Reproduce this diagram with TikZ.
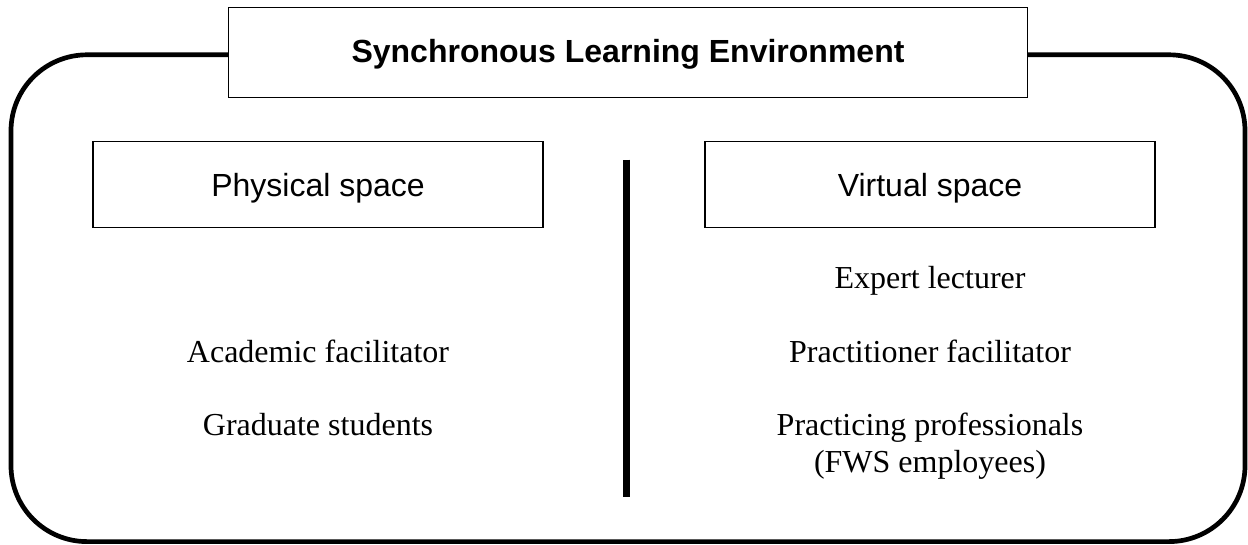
\documentclass[tikz,border=0pt]{standalone}
\usepackage{fontspec}
\setmainfont{Liberation Serif}
\setsansfont{Liberation Sans}
\begin{document}
\begin{tikzpicture}[x=1pt,y=-1pt,
  frame/.style={line width=4.7pt},
  spacebox/.style={draw, line width=1.2pt, minimum width=450pt, minimum height=85.6pt, inner sep=0pt,
    font=\sffamily\fontsize{32}{38}\selectfont, text height=23pt, text depth=0pt},
  titlebox/.style={draw, line width=1.2pt, minimum width=798.6pt, minimum height=90pt, inner sep=0pt,
    font=\sffamily\bfseries\fontsize{32}{38}\selectfont, text height=23pt, text depth=3.6pt},
  role/.style={font=\fontsize{32}{37}\selectfont, anchor=base, inner sep=0pt, align=center},
  divider/.style={line width=7.5pt}]
\useasboundingbox (0,0) rectangle (1248,544);
% frame
\coordinate (fl) at (228.7,54.8);
\coordinate (fr) at (1027.3,54.8);
\draw[frame, rounded corners=76pt] (fl) -- (11,54.8) -- (11,541.6) -- (1245,541.6) -- (1245,54.8) -- (fr);
% title
\node[titlebox, fill=white] (title) at (628,52.3) {Synchronous Learning Environment};
% space boxes
\node[spacebox] (phys) at (318,184.5) {Physical space};
\node[spacebox] (virt) at (930,184.5) {Virtual space};
% divider
\coordinate (dtop) at (626.7,159.6);
\coordinate (dbot) at (626.7,497);
\draw[divider] (dtop) -- (dbot);
% roles
\node[role] (expert) at (930,288) {Expert lecturer};
\node[role] (acad) at (318,362) {Academic facilitator};
\node[role] (pract) at (930,362) {Practitioner facilitator};
\node[role] (grad) at (318,435) {Graduate students};
\node[role] (prof) at (930,472) {Practicing professionals\\(FWS employees)};
\end{tikzpicture}
\end{document}
